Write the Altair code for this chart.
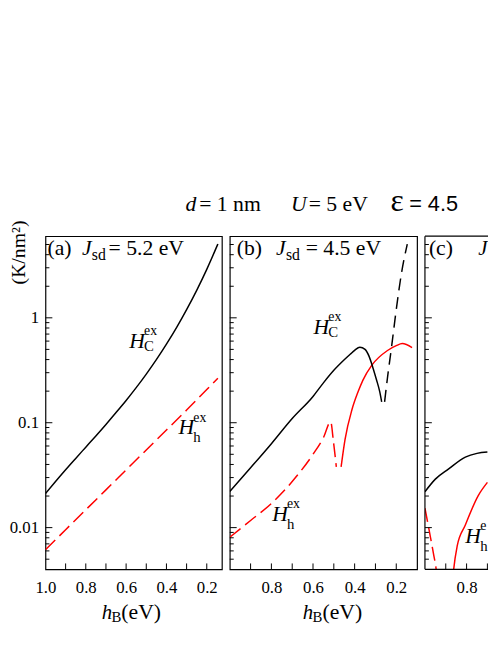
import altair as alt
import pandas as pd

SERIF = "Liberation Serif"
SANS = "Liberation Sans"
BLACK = "#000000"
RED = "#ff0000"

# ---------------- data ----------------
# panel (a)  J_sd = 5.2 eV
a_C_hB = [1.0, 0.95, 0.9, 0.85, 0.8, 0.75, 0.7, 0.65, 0.6, 0.55, 0.5, 0.45, 0.4,
          0.35, 0.3, 0.25, 0.2, 0.145]
a_C_H = [0.0211, 0.0275, 0.0356, 0.0457, 0.0585, 0.0749, 0.0964, 0.125, 0.163,
         0.216, 0.291, 0.399, 0.561, 0.807, 1.197, 1.83, 2.90, 5.05]
a_h_hB = [1.0, 0.9, 0.8, 0.7, 0.6, 0.5, 0.4, 0.3, 0.2, 0.145]
a_h_H = [0.00615, 0.00955, 0.0148, 0.0229, 0.0355, 0.055, 0.0851, 0.132, 0.207, 0.266]

# panel (b)  J_sd = 4.5 eV
b_C_hB = [1.0, 0.9, 0.8, 0.7, 0.6, 0.55, 0.5, 0.45, 0.42, 0.4, 0.375, 0.35, 0.33,
          0.31, 0.295, 0.28, 0.27]
b_C_H = [0.0221, 0.0372, 0.0631, 0.1096, 0.178, 0.24, 0.316, 0.398, 0.452, 0.49,
         0.525, 0.50, 0.427, 0.324, 0.257, 0.20, 0.158]
b_Cneg_hB = [0.256, 0.242, 0.223, 0.199, 0.176, 0.147]
b_Cneg_H = [0.158, 0.27, 0.52, 1.24, 2.58, 5.05]
b_hneg_hB = [1.0, 0.9, 0.8, 0.7, 0.6, 0.55, 0.515, 0.502, 0.488]
b_hneg_H = [0.0081, 0.0117, 0.0170, 0.0275, 0.050, 0.072, 0.102, 0.0665, 0.038]
b_h_hB = [0.465, 0.446, 0.413, 0.384, 0.36, 0.318, 0.242, 0.2, 0.171, 0.124]
b_h_H = [0.038, 0.0695, 0.133, 0.196, 0.255, 0.352, 0.488, 0.543, 0.568, 0.52]

# panel (c)  (only its left part is visible in the figure)
c_C_hB = [1.0, 0.95, 0.886, 0.806, 0.75, 0.70]
c_C_H = [0.022, 0.029, 0.0363, 0.047, 0.051, 0.0525]
c_hneg_hB = [1.0, 0.986, 0.972, 0.958, 0.945, 0.935]
c_hneg_H = [0.0153, 0.011, 0.0078, 0.0055, 0.0038, 0.002]
c_h_hB = [0.875, 0.862, 0.845, 0.806, 0.744, 0.70]
c_h_H = [0.002, 0.004, 0.0067, 0.0106, 0.0202, 0.027]

# ticks / labels
Y_LABELS = [0.01, 0.1, 1]
Y_MINOR = [0.005, 0.006, 0.007, 0.008, 0.009,
           0.02, 0.03, 0.04, 0.05, 0.06, 0.07, 0.08, 0.09,
           0.2, 0.3, 0.4, 0.5, 0.6, 0.7, 0.8, 0.9,
           2, 3, 4, 5]
X_LABELS_A = [1.0, 0.8, 0.6, 0.4, 0.2]
X_LABELS_B = [0.8, 0.6, 0.4, 0.2]
X_LABELS_C = [0.8]
X_TICKS = [0.9, 0.8, 0.7, 0.6, 0.5, 0.4, 0.3, 0.2]
X_TICKS_C = [0.9, 0.8, 0.7]

Y_DOMAIN = [0.004, 6.0]
X_DOMAIN_A = [0.125, 1.0]
X_DOMAIN_B = [0.1, 1.0]
X_DOMAIN_C = [0.697, 1.0]
PH = 338


def txt(s, x, y, size, italic=False, font=SERIF, clip=False):
    return alt.Chart(pd.DataFrame({"t": [s]})).mark_text(
        align="left", baseline="alphabetic", font=font, fontSize=size,
        fontStyle="italic" if italic else "normal", color=BLACK, clip=clip
    ).encode(text="t:N", x=alt.value(x), y=alt.value(y))


def hlabel(x, y, sub, subdy, sup="ex", clip=False):
    return [txt("H", x, y, 22, italic=True, clip=clip),
            txt(sup, x + 15, y - 13, 14, clip=clip),
            txt(sub, x + 15, y + subdy, 15, clip=clip)]


def xtitle(x):
    return [txt("h", x, PH + 50, 21, italic=True),
            txt("B", x + 10, PH + 53, 15),
            txt("(eV)", x + 20, PH + 50, 22)]


def frame_rule(x, x2, y, y2):
    return alt.Chart(pd.DataFrame({"t": [0]})).mark_rule(
        color=BLACK, strokeWidth=1.2).encode(
        x=alt.value(x), x2=alt.value(x2), y=alt.value(y), y2=alt.value(y2))


def panel(width, xdomain, xlabels, xticks, curves, texts, show_y, open_right=False):
    xs = alt.Scale(domain=xdomain, reverse=True, nice=False, zero=False)
    ys = alt.Scale(type="log", domain=Y_DOMAIN, nice=False)
    xaxis = alt.Axis(values=xlabels, format=".1f", ticks=False, tickSize=0,
                     domain=False, grid=False, labelFont=SERIF, labelFontSize=17,
                     labelPadding=10, labelColor=BLACK, labelFlush=False, title=None)
    if show_y:
        yaxis = alt.Axis(values=Y_LABELS, format="~g", ticks=False, tickSize=0,
                         domain=False, grid=False, labelFont=SERIF, labelFontSize=17,
                         labelPadding=7, labelColor=BLACK, labelFlush=False,
                         title="(K/nm²)", titleFont=SERIF, titleFontSize=20,
                         titleFontWeight="normal", titleColor=BLACK, titleAngle=270,
                         titleX=-27, titleY=16, titleAlign="center",
                         titleBaseline="middle")
    else:
        yaxis = None
    layers = []
    for hb, hv, color, dash in curves:
        df = pd.DataFrame({"hB": hb, "H": hv})
        kw = dict(color=color, strokeWidth=1.5, clip=True, interpolate="monotone")
        if dash:
            kw["strokeDash"] = dash
        layers.append(alt.Chart(df).mark_line(**kw).encode(
            x=alt.X("hB:Q", scale=xs, axis=xaxis),
            y=alt.Y("H:Q", scale=ys, axis=yaxis),
            order=alt.Order("hB:Q", sort="descending")))
    # inward ticks
    layers.append(alt.Chart(pd.DataFrame({"v": Y_LABELS})).mark_rule(
        color=BLACK, strokeWidth=1).encode(
        y=alt.Y("v:Q", scale=ys, axis=yaxis), x=alt.value(0), x2=alt.value(7)))
    layers.append(alt.Chart(pd.DataFrame({"v": Y_MINOR})).mark_rule(
        color=BLACK, strokeWidth=1).encode(
        y=alt.Y("v:Q", scale=ys, axis=yaxis), x=alt.value(0), x2=alt.value(4)))
    layers.append(alt.Chart(pd.DataFrame({"v": xticks})).mark_rule(
        color=BLACK, strokeWidth=1).encode(
        x=alt.X("v:Q", scale=xs, axis=xaxis), y=alt.value(PH), y2=alt.value(PH - 6)))
    if open_right:
        layers += [frame_rule(0, 0, 0, PH), frame_rule(0, width, 0, 0),
                   frame_rule(0, width, PH, PH)]
    layers += texts
    ch = alt.layer(*layers).properties(width=width, height=PH)
    if open_right:
        ch = ch.properties(view=alt.ViewBackground(stroke="transparent"))
    return ch


pa = panel(
    179, X_DOMAIN_A, X_LABELS_A, X_TICKS,
    [(a_h_hB, a_h_H, RED, [14, 6]),
     (a_C_hB, a_C_H, BLACK, None)],
    [txt("(a)", 2, 19, 22), txt("J", 37, 19, 22, italic=True),
     txt("sd", 47, 24, 16), txt("= 5.2 eV", 64, 19, 22)]
    + hlabel(85, 113, "C", 3) + hlabel(135, 201, "h", 8) + xtitle(57),
    True)

pb = panel(
    190, X_DOMAIN_B, X_LABELS_B, X_TICKS,
    [(b_hneg_hB, b_hneg_H, RED, [14, 6]),
     (b_h_hB, b_h_H, RED, None),
     (b_C_hB, b_C_H, BLACK, None),
     (b_Cneg_hB, b_Cneg_H, BLACK, [12, 7])],
    [txt("(b)", 7, 19, 22), txt("J", 47, 19, 22, italic=True),
     txt("sd", 57, 24, 16), txt("= 4.5 eV", 77, 19, 22),
     # global title
     txt("d", -45, -26, 22, italic=True), txt("= 1 nm", -31, -26, 22),
     txt("U", 62, -26, 22, italic=True), txt("= 5 eV", 80, -26, 22),
     txt("ε", 163, -26, 32), txt("= 4.5", 182, -26, 22, font=SANS)]
    + hlabel(85, 99, "C", 3) + hlabel(43, 289, "h", 8) + xtitle(74),
    False)

pc = panel(
    64, X_DOMAIN_C, X_LABELS_C, X_TICKS_C,
    [(c_hneg_hB, c_hneg_H, RED, [14, 6]),
     (c_h_hB, c_h_H, RED, None),
     (c_C_hB, c_C_H, BLACK, None)],
    [txt("(c)", 4, 19, 22), txt("J", 54, 19, 21, italic=True, clip=True)]
    + hlabel(41, 311, "h", 8, sup="e", clip=True),
    False, open_right=True)

chart = alt.hconcat(pa, pb, pc, spacing=8, bounds="flush").properties(
    padding={"left": 0, "top": 174, "right": 0, "bottom": 0}
).configure_view(stroke=BLACK, strokeWidth=1.2)

chart.save("out.html", embed_options={"renderer": "svg", "actions": False})
